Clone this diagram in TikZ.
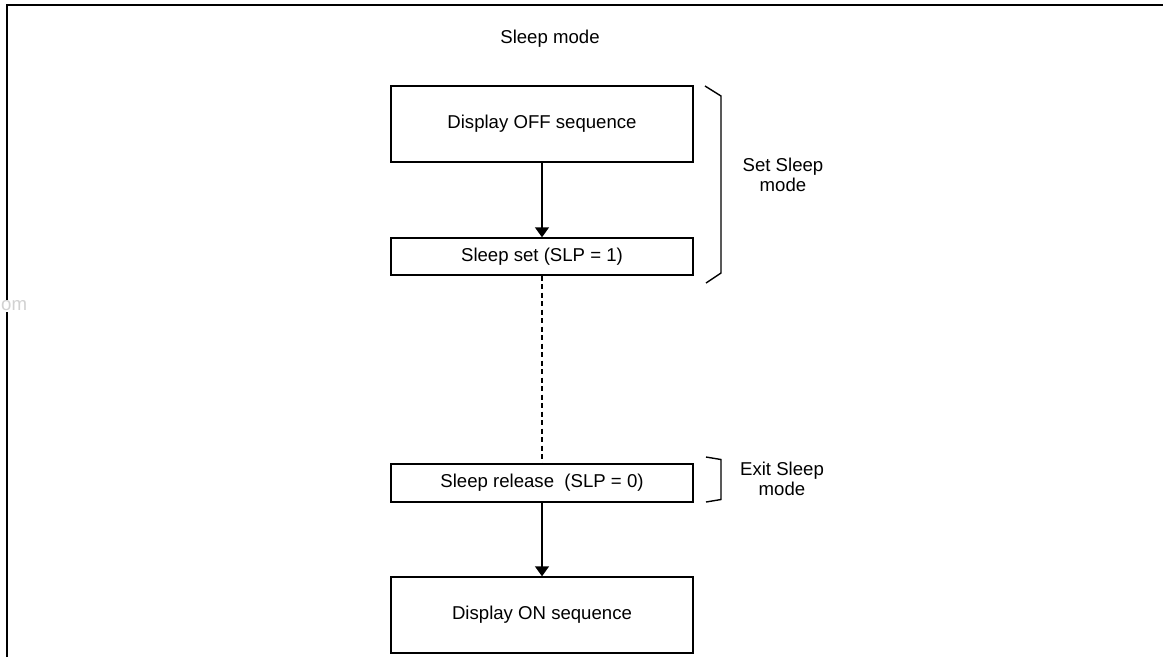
\documentclass[tikz,border=0pt]{standalone}
\usepackage{fontspec}
\setmainfont{Liberation Sans}
\usetikzlibrary{arrows.meta}
\begin{document}
\begin{tikzpicture}[x=1pt,y=-1pt,
  stepbox/.style={draw,line width=1.4pt,minimum width=302pt,inner sep=0pt,font=\fontsize{18.6}{20}\selectfont},
  lbl/.style={align=center,inner sep=0pt,font=\fontsize{18.6}{19.5}\selectfont},
  flow/.style={line width=1.4pt,-{Triangle[width=14pt,length=10pt]}},
  brk/.style={line width=1.4pt},
  frame/.style={line width=2pt}]
\useasboundingbox (0,0) rectangle (1163,657);
\draw[frame] (7,657) -- (7,5) -- (1163,5);
\node[anchor=west,inner sep=0.5pt,fill=white,text=black!18,font=\fontsize{18.6}{20}\selectfont] (wm) at (0.5,306) {om};
\node[anchor=base,inner sep=0pt,font=\fontsize{18.6}{20}\selectfont] (title) at (550,43) {Sleep mode};
\node[stepbox,minimum height=76pt] (off) at (542,124) {Display OFF sequence};
\node[stepbox,minimum height=37pt] (set) at (542,256.5) {Sleep set (SLP = 1)};
\node[stepbox,minimum height=38pt] (rel) at (542,483) {Sleep release\ \ (SLP = 0)};
\node[stepbox,minimum height=76pt] (on) at (542,615) {Display ON sequence};
\draw[flow] (off) -- (set);
\draw[line width=1.2pt,dash pattern=on 5pt off 3.5pt] (set) -- (rel);
\draw[flow] (rel) -- (on);
\draw[brk] (705,86) -- (721,96) -- (721,273) -- (706,283);
\draw[brk] (706,457) -- (721,459.5) -- (721,499.5) -- (706,502);
\node[lbl] (setl) at (783,175) {Set Sleep\\mode};
\node[lbl] (exitl) at (782,479) {Exit Sleep\\mode};
\end{tikzpicture}
\end{document}
